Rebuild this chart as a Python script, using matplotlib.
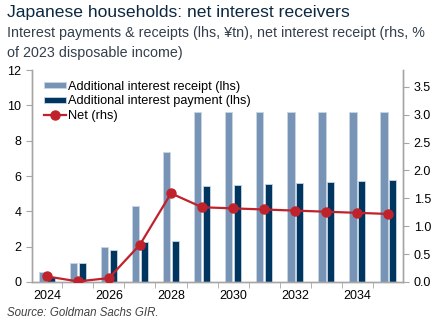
import numpy as np
from matplotlib import pyplot as plt

plt.rcParams['font.family'] = ['Liberation Sans', 'DejaVu Sans']

# Japanese households: additional interest flows
years = [2024, 2025, 2026, 2027, 2028, 2029, 2030, 2031, 2032, 2033, 2034, 2035]
receipt = [0.55, 1.05, 2.0, 4.3, 7.35, 9.65, 9.65, 9.65, 9.65, 9.65, 9.65, 9.65]
payment = [0.3, 1.05, 1.8, 2.25, 2.3, 5.45, 5.5, 5.55, 5.6, 5.67, 5.73, 5.8]
net = [0.1, 0.01, 0.07, 0.67, 1.59, 1.34, 1.32, 1.30, 1.28, 1.26, 1.24, 1.22]

tick_years = [2024, 2026, 2028, 2030, 2032, 2034]

c_receipt = '#7794b7'
c_payment = '#003560'
c_net = '#c0222c'
grey = '#a6a6a6'

fig = plt.figure(figsize=(4.44, 3.23), dpi=100)
ax = fig.add_axes([0.072, 0.127, 0.836, 0.656])
ax2 = ax.twinx()

x = np.arange(len(years))
w = 0.24
ax.bar(x - 0.14, receipt, width=w, color=c_receipt, edgecolor='#c9d5e3', linewidth=0.6,
       label='Additional interest receipt (lhs)', zorder=2)
ax.bar(x + 0.14, payment, width=w, color=c_payment, edgecolor='#c9d5e3', linewidth=0.6,
       label='Additional interest payment (lhs)', zorder=2)
ax2.plot(x, net, color=c_net, linewidth=1.6, marker='o', markersize=6.5,
         label='Net (rhs)', zorder=3)

ax.set_xlim(-0.48, 11.48)
ax.set_ylim(0, 12)
ax2.set_ylim(0, 3.8)
ax.set_yticks([0, 2, 4, 6, 8, 10, 12])
ax2.set_yticks([0.0, 0.5, 1.0, 1.5, 2.0, 2.5, 3.0, 3.5])
ax2.set_yticklabels(['%.1f' % v for v in ax2.get_yticks()])

# year labels under their bars, tick marks between categories
ax.set_xticks([years.index(y) for y in tick_years])
ax.set_xticklabels([str(y) for y in tick_years])
ax.set_xticks(x[:-1] + 0.5, minor=True)
ax.tick_params(axis='x', which='major', length=0, labelsize=9, pad=6)
ax.tick_params(axis='x', which='minor', length=4, color=grey, direction='out')
ax.tick_params(axis='y', length=4, color=grey, labelsize=9)
ax2.tick_params(axis='y', length=4, color=grey, labelsize=9)

for a in (ax, ax2):
    a.spines['top'].set_visible(False)
    for s in ('left', 'right', 'bottom'):
        a.spines[s].set_color(grey)
        a.spines[s].set_linewidth(1.0)

h1, l1 = ax.get_legend_handles_labels()
h2, l2 = ax2.get_legend_handles_labels()
leg = ax2.legend(h1 + h2, l1 + l2, loc='upper left', bbox_to_anchor=(0.012, 0.985),
                 frameon=False, fontsize=9.2, handlelength=1.75, handleheight=0.35,
                 handletextpad=0.1, labelspacing=0.2, borderaxespad=0.2)

fig.text(0.016, 0.962, 'Japanese households: net interest receivers', fontsize=12.6,
         color='#0b2841', va='center')
fig.text(0.016, 0.897, 'Interest payments & receipts (lhs, ¥tn), net interest receipt (rhs, %',
         fontsize=10.3, color='#333f4c', va='center')
fig.text(0.016, 0.836, 'of 2023 disposable income)', fontsize=10.3, color='#333f4c', va='center')
fig.text(0.016, 0.03, 'Source: Goldman Sachs GIR.', fontsize=8.3, style='italic',
         color='#404040', va='center')

plt.savefig('out.png', dpi=100)
